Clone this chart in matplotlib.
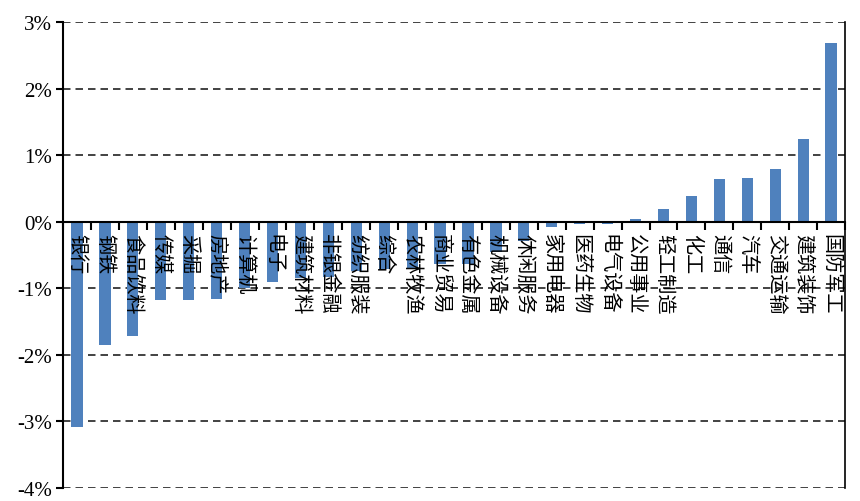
import numpy as np
import matplotlib
matplotlib.use('Agg')
import matplotlib.pyplot as plt

plt.rcParams['axes.unicode_minus'] = False

industries = ['银行', '钢铁', '食品饮料', '传媒', '采掘', '房地产', '计算机', '电子',
              '建筑材料', '非银金融', '纺织服装', '综合', '农林牧渔', '商业贸易', '有色金属',
              '机械设备', '休闲服务', '家用电器', '医药生物', '电气设备', '公用事业', '轻工制造',
              '化工', '通信', '汽车', '交通运输', '建筑装饰', '国防军工']
# weekly change, in %
change = [-3.08, -1.85, -1.72, -1.18, -1.18, -1.16, -1.00, -0.90,
          -0.85, -0.83, -0.74, -0.71, -0.70, -0.64, -0.64,
          -0.46, -0.29, -0.08, -0.03, -0.03, 0.04, 0.19,
          0.38, 0.64, 0.65, 0.80, 1.24, 2.68]
y_ticks = [-4, -3, -2, -1, 0, 1, 2, 3]

fig = plt.figure(figsize=(8.6, 5.02), dpi=100)
ax = fig.add_axes([0.0733, 0.026, 0.9093, 0.928])

x = np.arange(len(industries))
ax.bar(x, change, width=0.4, color='#4F81BD', zorder=2)

ax.set_xlim(-0.5, len(industries) - 0.5)
ax.set_ylim(-4, 3)
ax.set_yticks(y_ticks)
ax.set_yticklabels([f'{v}%' for v in y_ticks], fontfamily='Liberation Serif', fontsize=15)
for v in y_ticks:
    if v != 0:
        ax.axhline(v, color='#222222', lw=1.2, ls=(0, (4.5, 3)), zorder=1)

ax.spines['top'].set_visible(False)
ax.spines['bottom'].set_position(('data', 0))
ax.spines['bottom'].set_linewidth(1.5)
ax.spines['left'].set_linewidth(1.5)
ax.spines['right'].set_linewidth(1.2)
ax.set_xticks(np.arange(-0.5, len(industries), 1))
ax.set_xticklabels([])
ax.tick_params(axis='x', direction='out', length=6, width=1.5)
ax.tick_params(axis='y', direction='out', length=5, width=1.5, pad=3)

for xi, name in zip(x, industries):
    ax.text(xi, -0.17, name, rotation=-90, ha='center', va='top',
            fontsize=14.5, family=['Noto Sans CJK SC', 'DejaVu Sans'], zorder=3)

fig.savefig('out.png', dpi=100)
